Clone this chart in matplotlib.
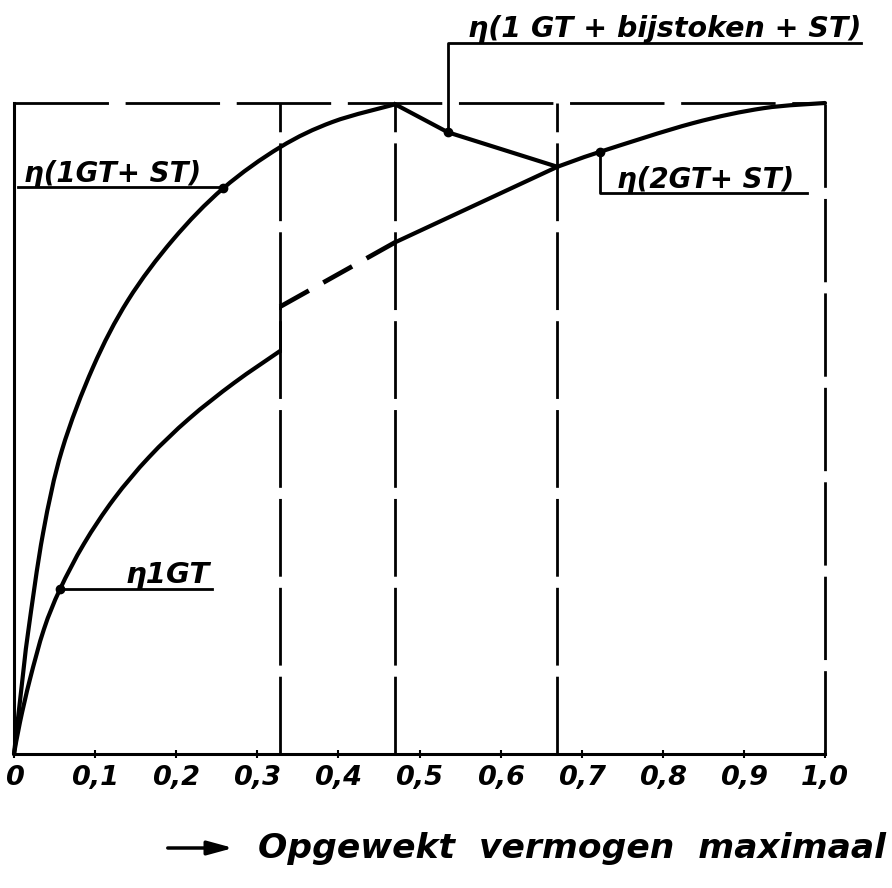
import matplotlib
matplotlib.use("Agg")
import matplotlib.pyplot as plt
from matplotlib.path import Path
from matplotlib.patches import PathPatch, FancyArrowPatch
import numpy as np

# --- data ---
x_1gt_st = [0.0, 0.0099, 0.0173, 0.0358, 0.0592, 0.0974, 0.1406, 0.196, 0.258, 0.328, 0.393, 0.470]
y_1gt_st = [0.0, 0.109, 0.186, 0.339, 0.467, 0.594, 0.697, 0.790, 0.869, 0.932, 0.971, 0.998]

x_bijstoken = [0.470, 0.535, 0.670]
y_bijstoken = [0.998, 0.955, 0.902]

x_1gt = [0.0, 0.0074, 0.0197, 0.037, 0.0567, 0.0863, 0.1233, 0.1665, 0.2158, 0.2713, 0.328]
y_1gt = [0.0, 0.049, 0.115, 0.192, 0.253, 0.323, 0.392, 0.456, 0.515, 0.570, 0.619]

x_2gt_dash = [0.328, 0.470]
y_2gt_dash = [0.687, 0.786]

x_2gt = [0.470, 0.670, 0.7226, 0.837, 0.924, 1.0]
y_2gt = [0.786, 0.902, 0.925, 0.969, 0.992, 1.0]

switch_x = [0.328, 0.470, 0.670]

xticks = [0.0, 0.1, 0.2, 0.3, 0.4, 0.5, 0.6, 0.7, 0.8, 0.9, 1.0]
xtick_labels = ["0", "0,1", "0,2", "0,3", "0,4", "0,5", "0,6", "0,7", "0,8", "0,9", "1,0"]

label_1gt_st = "η(1GT+ ST)"
label_bij = "η(1 GT + bijstoken + ST)"
label_2gt = "η(2GT+ ST)"
label_1gt = "η1GT"
xlabel = "Opgewekt  vermogen  maximaal"

K = "black"


def smooth_curve(ax, xs, ys, **kw):
    """Draw a smooth Bezier (Catmull-Rom) path through the given points."""
    P = np.column_stack([xs, ys]).astype(float)
    n = len(P)
    verts = [P[0]]
    codes = [Path.MOVETO]
    for i in range(n - 1):
        p0 = P[i - 1] if i > 0 else P[i]
        p1, p2 = P[i], P[i + 1]
        p3 = P[i + 2] if i + 2 < n else P[i + 1]
        c1 = p1 + (p2 - p0) / 6.0
        c2 = p2 - (p3 - p1) / 6.0
        verts += [c1, c2, p2]
        codes += [Path.CURVE4] * 3
    patch = PathPatch(Path(verts, codes), facecolor="none", edgecolor=K,
                      capstyle="round", joinstyle="round", **kw)
    ax.add_patch(patch)
    return patch


# --- figure ---
W, H = 892, 888
fig = plt.figure(figsize=(W / 100, H / 100), dpi=100)
left, right, bottom, top = 14 / W, 825 / W, (H - 754) / H, (H - 103) / H
ax = fig.add_axes([left, bottom, right - left, top - bottom])
ax.set_xlim(0, 1)
ax.set_ylim(0, 1)
for s in ax.spines.values():
    s.set_visible(False)

fkw = dict(family="DejaVu Sans", weight="bold", style="italic", color="black")

# frame
ax.plot([0, 0], [0, 1], color=K, lw=2.2, clip_on=False)
ax.plot([0, 1], [0, 0], color=K, lw=2.2, clip_on=False)
ax.plot([0, 1], [1, 1], color=K, lw=2.0, ls=(0, (34, 6)), clip_on=False)
ax.plot([1, 1], [0, 1], color=K, lw=2.0, ls=(0, (30, 4)), clip_on=False)
for sx in switch_x:
    ax.plot([sx, sx], [0, 1], color=K, lw=2.0, ls=(0, (28, 4)), clip_on=False)

# curves
lw = 3.0
smooth_curve(ax, x_1gt_st, y_1gt_st, lw=lw, clip_on=False)
ax.plot(x_bijstoken, y_bijstoken, color=K, lw=lw, clip_on=False)
smooth_curve(ax, x_1gt, y_1gt, lw=lw, clip_on=False)
ax.plot([x_1gt[-1], x_2gt_dash[0]], [y_1gt[-1], y_2gt_dash[0]], color=K, lw=2.0)
ax.plot(x_2gt_dash, y_2gt_dash, color=K, lw=3.4, ls=(0, (7, 3.5)))
ax.plot(x_2gt[:2], y_2gt[:2], color=K, lw=lw, solid_capstyle="round")
smooth_curve(ax, x_2gt[1:], y_2gt[1:], lw=lw, clip_on=False)

# label leaders and dots
ax.plot([0.005, 0.258], [0.871, 0.871], color=K, lw=2.0)
ax.plot([0.258], [0.869], "o", color=K, ms=6)
ax.text(0.012, 0.879, label_1gt_st, fontsize=20, ha="left", va="baseline", **fkw)

ax.plot([0.535, 0.535, 1.045], [0.955, 1.092, 1.092], color=K, lw=2.0, clip_on=False)
ax.plot([0.535], [0.955], "o", color=K, ms=6)
ax.text(0.560, 1.102, label_bij, fontsize=20.5, ha="left", va="baseline", **fkw)

ax.plot([0.7226, 0.7226, 0.978], [0.925, 0.862, 0.862], color=K, lw=2.0, clip_on=False)
ax.plot([0.7226], [0.925], "o", color=K, ms=6)
ax.text(0.744, 0.870, label_2gt, fontsize=20, ha="left", va="baseline", **fkw)

ax.plot([0.0567, 0.244], [0.253, 0.253], color=K, lw=2.0)
ax.plot([0.0567], [0.253], "o", color=K, ms=6)
ax.text(0.137, 0.262, label_1gt, fontsize=21, ha="left", va="baseline", **fkw)

# ticks
ax.set_yticks([])
ax.set_xticks(xticks)
ax.set_xticklabels(xtick_labels, fontsize=19.5, fontweight="bold", fontstyle="italic")
ax.tick_params(axis="x", direction="inout", length=6, width=1.5, pad=5)

# x label with arrow
fig.text(258 / W, 1 - 848 / H, xlabel, fontsize=24.8, ha="left", va="center", **fkw)
fig.add_artist(FancyArrowPatch(
    (165 / W, 1 - 848 / H), (236 / W, 1 - 848 / H), transform=fig.transFigure,
    arrowstyle="-|>,head_length=1.1,head_width=0.3", mutation_scale=14, lw=2.5, color=K))

fig.savefig("out.png", dpi=100, facecolor="white")
